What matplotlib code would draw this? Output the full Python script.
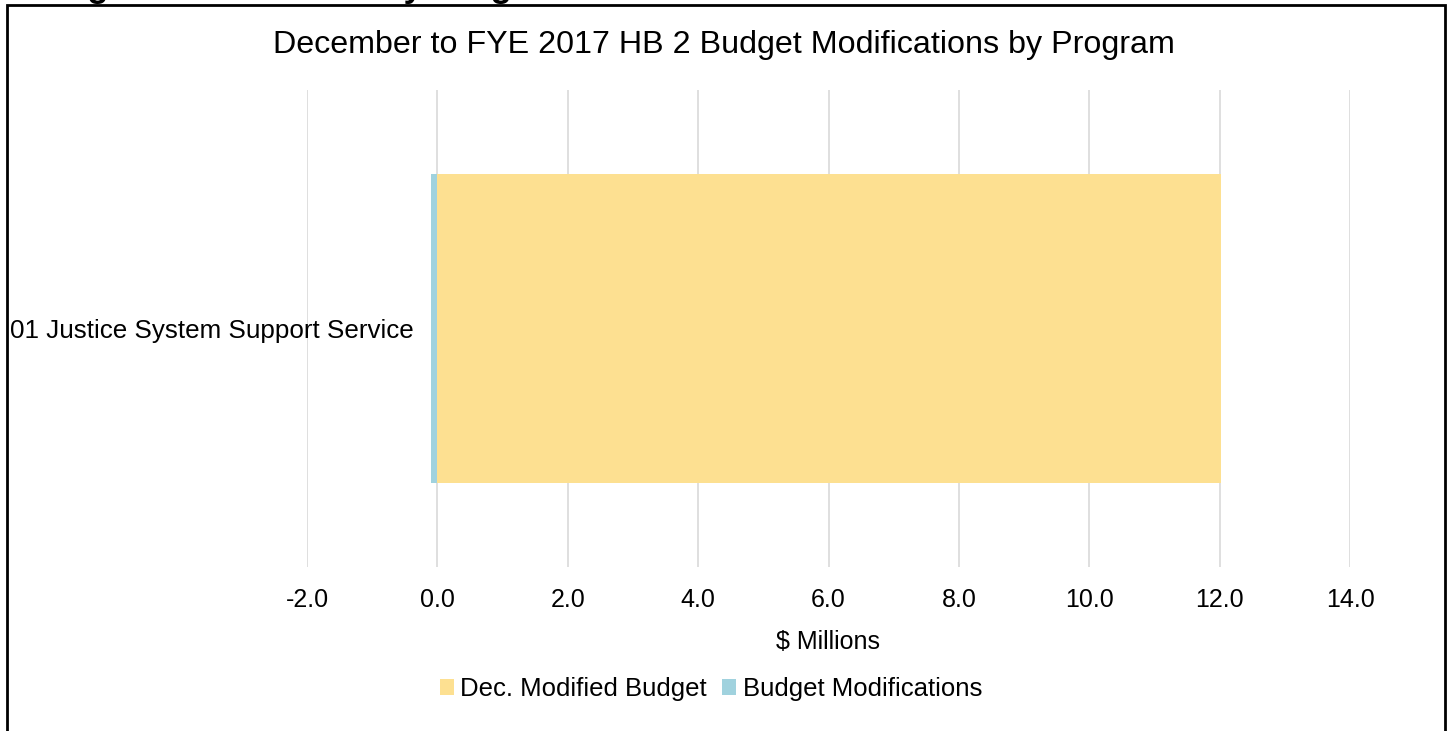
import matplotlib.pyplot as plt
from matplotlib.patches import Rectangle

plt.rcParams['font.family'] = ['Liberation Sans', 'DejaVu Sans']

# data
programs = ["01 Justice System Support Service"]
dec_modified_budget = [12.02]
budget_modifications = [-0.10]
series_names = ["Dec. Modified Budget", "Budget Modifications"]
x_ticks = [-2, 0, 2, 4, 6, 8, 10, 12, 14]

W, H = 1448, 731
fig = plt.figure(figsize=(W / 100, H / 100), dpi=100)

# outer chart border
fig.patches.append(Rectangle((7 / W, -0.02), 1438 / W, 1.02 - 5 / H,
                             transform=fig.transFigure, fill=False,
                             edgecolor="black", linewidth=2))

# heading above the chart, cut off by the top edge
fig.text(20 / W, 1 + 3 / H, "Budget Modifications by Program",
         fontsize=25, fontweight="bold", ha="left", va="baseline")

ax = fig.add_axes([307 / W, 1 - 567 / H, (1350 - 307) / W, (567 - 90) / H])

yellow = "#FDE091"
blue = "#A0D2DE"
ypos = list(range(len(programs)))
ax.barh(ypos, dec_modified_budget, height=0.646, color=yellow,
        label=series_names[0], zorder=2)
ax.barh(ypos, budget_modifications, height=0.646, color=blue,
        label=series_names[1], zorder=2)

ax.set_xlim(-2, 14)
ax.set_ylim(-0.5, len(programs) - 0.5)
ax.set_xticks(x_ticks)
ax.set_xticklabels([f"{v:.1f}" for v in x_ticks])
ax.set_yticks(ypos)
ax.set_yticklabels(programs)
ax.xaxis.grid(True, color="#D9D9D9", linewidth=1.2, zorder=0)
ax.set_axisbelow(True)

for s in ax.spines.values():
    s.set_visible(False)
ax.spines['left'].set_position(('data', 0))
ax.tick_params(axis="x", length=0, pad=15, labelsize=18)
ax.tick_params(axis="y", length=0, pad=17, labelsize=18.7)

ax.set_xlabel("$ Millions", fontsize=18, labelpad=13)

fig.text(0.5, 1 - 45 / H, "December to FYE 2017 HB 2 Budget Modifications by Program",
         fontsize=23.2, ha="center", va="center")

fig.legend(loc="center", bbox_to_anchor=(711 / W, 1 - 689 / H), ncol=2,
           frameon=False, fontsize=18.5, handlelength=0.55, handleheight=0.55,
           handletextpad=0.25, columnspacing=0.6)

fig.savefig("out.png", dpi=100)
